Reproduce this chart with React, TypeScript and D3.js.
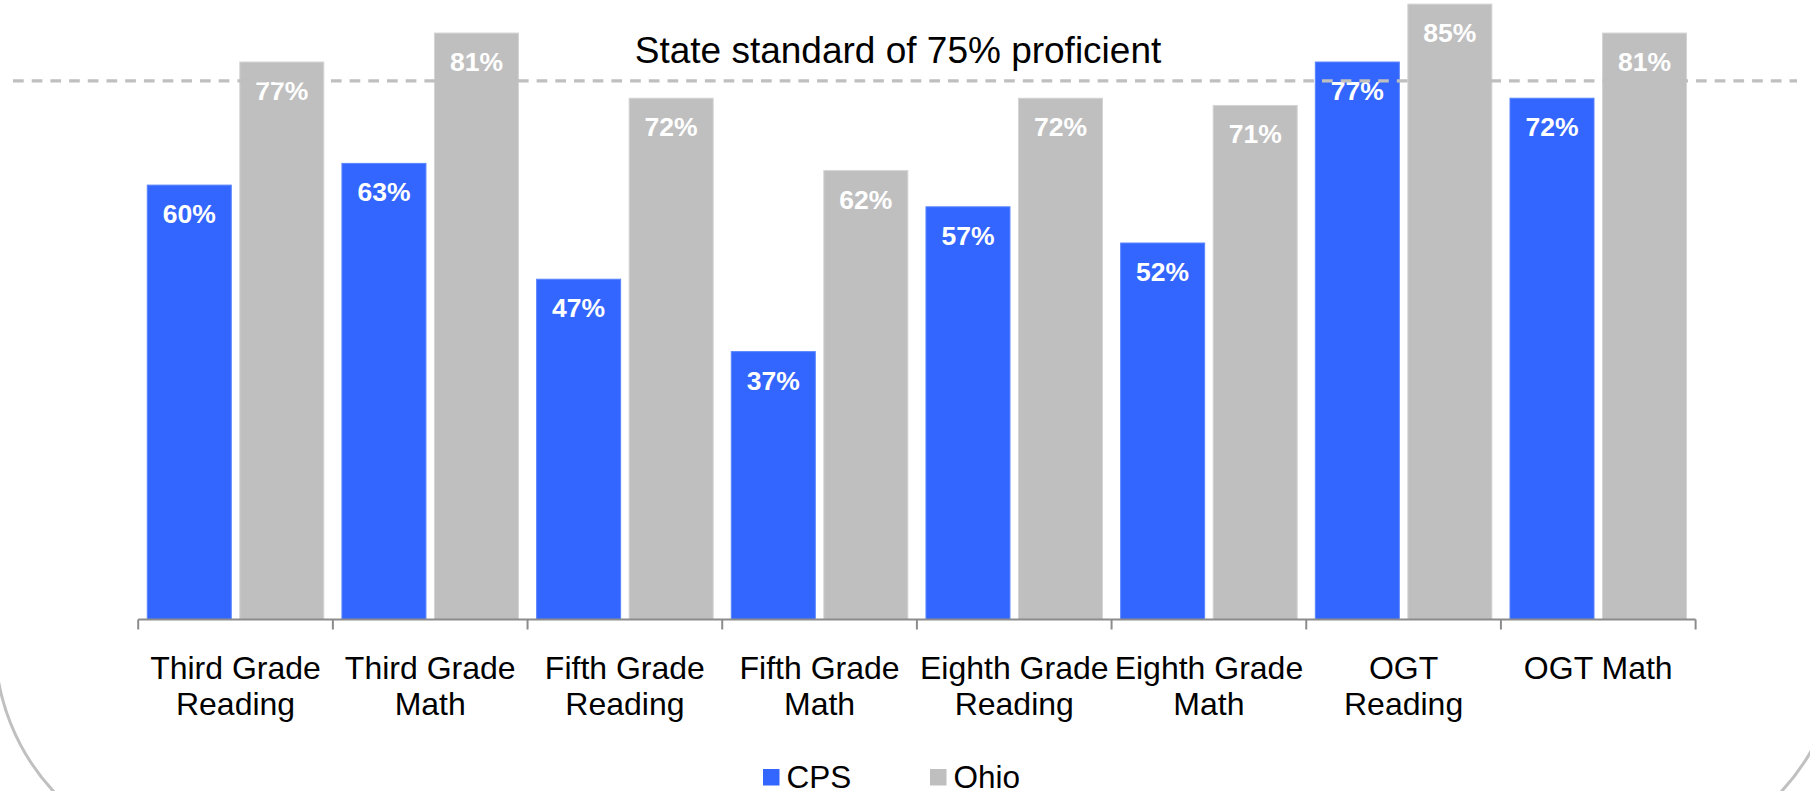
import React from 'react'
import { scaleBand, scaleLinear } from 'd3'

// chart data
const categories = [
    ['Third Grade', 'Reading'],
    ['Third Grade', 'Math'],
    ['Fifth Grade', 'Reading'],
    ['Fifth Grade', 'Math'],
    ['Eighth Grade', 'Reading'],
    ['Eighth Grade', 'Math'],
    ['OGT', 'Reading'],
    ['OGT Math'],
]
const seriesNames = ['CPS', 'Ohio']
const cpsValues = [60, 63, 47, 37, 57, 52, 77, 72]
const ohioValues = [77, 81, 72, 62, 72, 71, 85, 81]
// the dashed line sits a little under 75 in the picture
const standardLine = 74.4
const standardLabel = 'State standard of 75% proficient'

const W = 1810
const H = 791
const FONT = '"Liberation Sans", Arial, sans-serif'
const colors = { CPS: '#3366ff', Ohio: '#bfbfbf' }
const strokes = { CPS: '#5a85ff', Ohio: '#d4d4d4' }

const App = () => {
    const keys = categories.map((c, i) => 'c' + i)

    const x = scaleBand().domain(keys).range([138.2, 1695.6]).padding(0)
    const xInner = scaleBand()
        .domain(seriesNames)
        .range([0, x.bandwidth()])
        .paddingInner(0.092)
        .paddingOuter(0.098)
    const y = scaleLinear().domain([0, 100]).range([619.5, -104.5])

    const axisY = y(0)
    const ticks = [...keys.map(k => x(k)), x.range()[1]]

    const rows = keys.flatMap((k, i) => [
        { key: k, series: 'CPS', value: cpsValues[i] },
        { key: k, series: 'Ohio', value: ohioValues[i] },
    ])

    return (
        <svg width={W} height={H} style={{ position: 'absolute', left: 0, top: 0, background: '#fff' }}
            fontFamily={FONT}>
            {/* rounded frame, mostly off the page */}
            <rect x={-5} y={-400} width={1845} height={1262} rx={220} ry={220}
                fill="none" stroke="#c0c0c0" strokeWidth={3} />

            {rows.map(d => (
                <g key={d.key + d.series}>
                    <rect
                        x={x(d.key) + xInner(d.series)}
                        y={y(d.value)}
                        width={xInner.bandwidth()}
                        height={axisY - y(d.value)}
                        fill={colors[d.series]}
                        stroke={strokes[d.series]}
                        strokeWidth={1}
                    />
                    <text
                        x={x(d.key) + xInner(d.series) + xInner.bandwidth() / 2}
                        y={y(d.value) + 38}
                        textAnchor="middle"
                        fill="#fff"
                        fontWeight="bold"
                        fontSize={26.5}
                    >{d.value}%</text>
                </g>
            ))}

            {/* standard line */}
            <line x1={13} x2={1797} y1={y(standardLine)} y2={y(standardLine)}
                stroke="#bfbfbf" strokeWidth={3.2} strokeDasharray="10.7 8" />
            <text x={898} y={62.5} textAnchor="middle" fontSize={37} fill="#000">{standardLabel}</text>

            {/* x axis */}
            <line x1={x.range()[0]} x2={x.range()[1]} y1={axisY} y2={axisY} stroke="#8c8c8c" strokeWidth={2} />
            {ticks.map((t, i) => (
                <line key={i} x1={t} x2={t} y1={axisY} y2={axisY + 10} stroke="#8c8c8c" strokeWidth={2} />
            ))}
            {categories.map((lines, i) => (
                <text key={i} x={x(keys[i]) + x.bandwidth() / 2} textAnchor="middle" fontSize={32} fill="#000">
                    {lines.map((l, j) => (
                        <tspan key={j} x={x(keys[i]) + x.bandwidth() / 2} y={679 + j * 36}>{l}</tspan>
                    ))}
                </text>
            ))}

            {/* legend */}
            {seriesNames.map((s, i) => (
                <g key={s} transform={`translate(${763 + i * 167}, 769)`}>
                    <rect width={16.5} height={16.5} fill={colors[s]} />
                    <text x={23.5} y={18.5} fontSize={31.5} fill="#000">{s}</text>
                </g>
            ))}
        </svg>
    )
}

export default App
